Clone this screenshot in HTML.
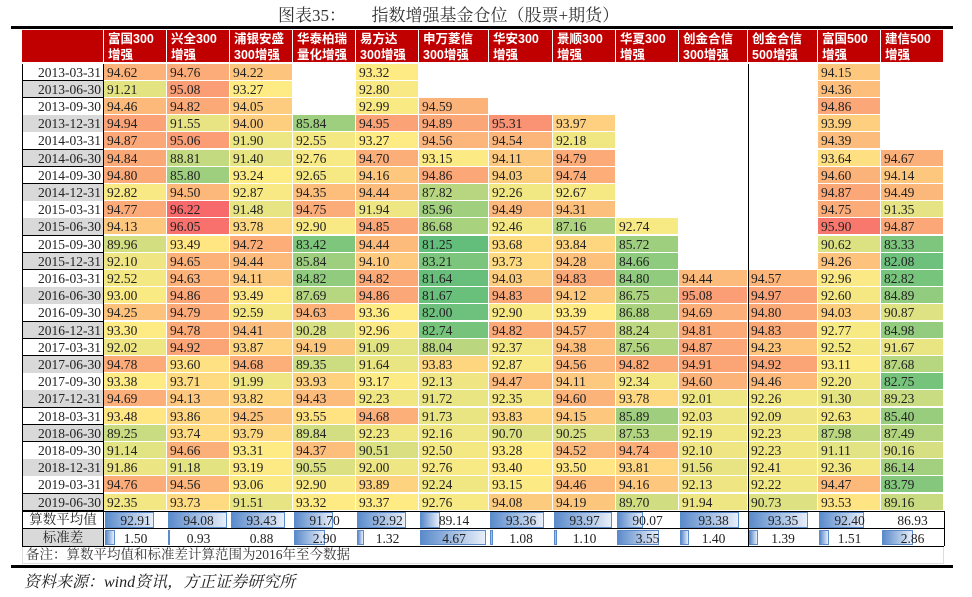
<!DOCTYPE html>
<html><head><meta charset="utf-8">
<style>
html,body{margin:0;padding:0;background:#fff;}
#root{position:relative;width:972px;height:597px;overflow:hidden;font-family:"Liberation Serif","Noto Serif CJK SC",serif;}
.c{position:absolute;box-sizing:border-box;font-size:13.5px;line-height:17px;color:#222;white-space:nowrap;overflow:hidden;}
.h{position:absolute;box-sizing:border-box;background:#C00000;color:#fff;font-family:"Liberation Sans","Noto Sans CJK SC",sans-serif;font-weight:bold;font-size:12.5px;line-height:16px;padding:1px 0 0 4px;border-right:1px solid #fff;border-bottom:2px solid #fff;white-space:nowrap;}
</style></head>
<body>
<div id="root">
  <div style="position:absolute;left:278px;top:1px;font-size:17px;color:#333;font-family:'Liberation Serif','Noto Serif CJK SC',serif;white-space:pre;">图表35：      指数增强基金仓位（股票+期货）</div>
  <div style="position:absolute;left:11px;top:26px;width:942px;height:3px;background:#000;"></div>
  <div style="position:absolute;left:11px;top:565px;width:942px;height:3px;background:#000;"></div>
  <div style="position:absolute;left:22px;top:546px;width:922px;height:18px;box-sizing:border-box;border:1px solid #ddd;border-top:none;padding-left:3px;font-size:13.5px;line-height:17px;color:#333;font-family:'Liberation Serif','Noto Serif CJK SC',serif;">备注：算数平均值和标准差计算范围为2016年至今数据</div>
  <div style="position:absolute;left:24px;top:569px;font-size:16px;font-style:italic;color:#222;font-family:'Liberation Serif','Noto Serif CJK SC',serif;">资料来源：wind资讯，方正证券研究所</div>
</div>
<script>
const dates=["2013-03-31","2013-06-30","2013-09-30","2013-12-31","2014-03-31","2014-06-30","2014-09-30","2014-12-31","2015-03-31","2015-06-30","2015-09-30","2015-12-31","2016-03-31","2016-06-30","2016-09-30","2016-12-31","2017-03-31","2017-06-30","2017-09-30","2017-12-31","2018-03-31","2018-06-30","2018-09-30","2018-12-31","2019-03-31","2019-06-30"];
const headLine1=["富国300","兴全300","浦银安盛","华泰柏瑞","易方达","申万菱信","华安300","景顺300","华夏300","创金合信","创金合信","富国500","建信500"];
const headLine2=["增强","增强","300增强","量化增强","300增强","300增强","增强","增强","增强","300增强","500增强","增强","增强"];
const N=null;
const colFuguo300=[94.62,91.21,94.46,94.94,94.87,94.84,94.80,92.82,94.77,94.13,89.96,92.10,92.52,93.00,94.25,93.30,92.02,94.78,93.38,94.69,93.48,89.25,91.14,91.86,94.76,92.35];
const colXingquan=[94.76,95.08,94.82,91.55,95.06,88.81,85.80,94.50,96.22,96.05,93.49,94.65,94.63,94.86,94.79,94.78,94.92,93.60,93.71,94.13,93.86,93.74,94.66,91.18,94.56,93.73];
const colPuyin=[94.22,93.27,94.05,94.00,91.90,91.40,93.24,92.87,91.48,93.78,94.72,94.44,94.11,93.49,92.59,94.41,93.87,94.68,91.99,93.82,94.25,93.79,93.31,93.19,93.06,91.51];
const colHuatai=[N,N,N,85.84,92.55,92.76,92.65,94.35,94.75,92.90,83.42,85.84,84.82,87.69,94.63,90.28,94.19,89.35,93.93,94.43,93.55,89.84,94.37,90.55,92.90,93.32];
const colEfund=[93.32,92.80,92.99,94.95,93.27,94.70,94.16,94.44,91.94,94.85,94.44,94.10,94.82,94.86,93.36,92.96,91.09,91.64,93.17,92.23,94.68,92.23,90.51,92.00,93.89,93.37];
const colShenwan=[N,N,94.59,94.89,94.56,93.15,94.86,87.82,85.96,86.68,81.25,83.21,81.64,81.67,82.00,82.74,88.04,93.83,92.13,91.72,91.73,92.16,92.50,92.76,92.24,92.76];
const colHuaan=[N,N,N,95.31,94.54,94.11,94.03,92.26,94.49,92.46,93.68,93.73,94.03,94.83,92.90,94.82,92.37,92.87,94.47,92.35,93.83,90.70,93.28,93.40,93.15,94.08];
const colJingshun=[N,N,N,93.97,92.18,94.79,94.74,92.67,94.31,87.16,93.84,94.28,94.83,94.12,93.39,94.57,94.38,94.56,94.11,94.60,94.15,90.25,94.52,93.50,94.46,94.19];
const colHuaxia=[N,N,N,N,N,N,N,N,N,92.74,85.72,84.66,84.80,86.75,86.88,88.24,87.56,94.82,92.34,93.78,85.89,87.53,94.74,93.81,94.16,89.70];
const colChuangjin300=[N,N,N,N,N,N,N,N,N,N,N,N,94.44,95.08,94.69,94.81,94.87,94.91,94.60,92.01,92.03,92.19,92.10,91.56,92.13,91.94];
const colChuangjin500=[N,N,N,N,N,N,N,N,N,N,N,N,94.57,94.97,94.80,94.83,94.23,94.92,94.46,92.26,92.09,92.23,92.23,92.41,92.22,90.73];
const colFuguo500=[94.15,94.36,94.86,93.99,94.39,93.64,94.60,94.87,94.75,95.90,90.62,94.26,92.96,92.60,94.03,92.77,92.52,93.11,92.20,91.30,92.63,87.98,91.11,92.36,94.47,93.53];
const colJianxin=[N,N,N,N,N,94.67,94.14,94.49,91.35,94.87,83.33,82.08,82.82,84.89,90.87,84.98,91.67,87.68,82.75,89.23,85.40,87.49,90.16,86.14,83.79,89.16];
const avgValues=[92.91,94.08,93.43,91.70,92.92,89.14,93.36,93.97,90.07,93.38,93.35,92.40,86.93];
const stdValues=[1.50,0.93,0.88,2.90,1.32,4.67,1.08,1.10,3.55,1.40,1.39,1.51,2.86];
const columns=[colFuguo300,colXingquan,colPuyin,colHuatai,colEfund,colShenwan,colHuaan,colJingshun,colHuaxia,colChuangjin300,colChuangjin500,colFuguo500,colJianxin];

const root=document.getElementById('root');
const colX=[104,167,230,293,356,419,489,553,616,679,748,818,881,944];
const headTop=30, rowTop=63.5, rowH=17.2;
function rowY(i){return rowTop+i*rowH;}
function mk(cls,x,y,w,h){const d=document.createElement('div');d.className=cls;d.style.left=x+'px';d.style.top=y+'px';d.style.width=w+'px';d.style.height=h+'px';root.appendChild(d);return d;}
// color scale
const all=[];columns.forEach(c=>c.forEach(v=>{if(v!==null)all.push(v);}));
all.sort((a,b)=>a-b);
const vMin=all[0],vMax=all[all.length-1],vMid=all[Math.floor(all.length/2)];
const G=[99,190,123],Y=[255,235,132],R=[248,105,107];
function lerp(a,b,t){return a.map((x,i)=>Math.round(x+(b[i]-x)*t));}
function color(v){let c;if(v<=vMid)c=lerp(G,Y,(v-vMin)/(vMid-vMin));else c=lerp(Y,R,(v-vMid)/(vMax-vMid));return 'rgb('+c.join(',')+')';}

// header
const h0=mk('h',22,headTop,82,34);


headLine1.forEach((t,j)=>{
  const d=mk('h',colX[j],headTop,colX[j+1]-colX[j],34);
  d.innerHTML=t+'<br>'+headLine2[j];
  
  
});
// rows
dates.forEach((dt,i)=>{
  const y=rowY(i);
  const d=mk('c',22,y,82,rowH+0.5);
  d.textContent=dt;
  d.style.textAlign='right';d.style.paddingRight='2px';
  d.style.background=(i%2)?'#D9D9D9':'#fff';
  d.style.borderLeft='1px solid #000';d.style.borderRight='1px solid #000';d.style.borderBottom='1px solid #000';
  
  
  columns.forEach((col,j)=>{
    const v=col[i];
    if(v===null)return;
    const c=mk('c',colX[j],y,colX[j+1]-colX[j],rowH);
    c.style.background=color(v);
    c.style.borderRight='1px solid #fff';c.style.borderBottom='1px solid #fff';
    c.style.paddingLeft='3px';
    c.textContent=v.toFixed(2);
    
    
  });
});
// summary rows
function summaryRow(vals,y,label,bg,name){
  const l=mk('c',22,y,82,17.5);
  l.textContent=label;l.style.textAlign='center';l.style.background=bg;
  l.style.fontFamily="'Liberation Serif','Noto Serif CJK SC',serif";
  l.style.borderLeft='1px solid #000';l.style.borderRight='1px solid #000';
  
  
  const mn=Math.min(...vals),mx=Math.max(...vals);
  vals.forEach((v,j)=>{
    const w=colX[j+1]-colX[j];
    const bw=(v-mn)/(mx-mn)*(w-4);
    if(bw>0.5){
      const b=mk('c',colX[j]+1,y+1,bw,15.5);
      b.style.background='linear-gradient(to right,#5B8BCB,#E8EEF8)';
      b.style.border='1px solid #5B8BCB';
      
      
    }
    const t=mk('c',colX[j],y,w,17.5);
    t.textContent=v.toFixed(2);t.style.textAlign='center';t.style.paddingTop='1px';
    
    
  });
  const line=mk('c',22,y-0.5,922,1.2);line.style.background='#000';
  
  
}
summaryRow(avgValues,511,'算数平均值','#fff','average-row');
summaryRow(stdValues,528.5,'标准差','#D9D9D9','std-row');
const bl=mk('c',22,545.5,922,1.2);bl.style.background='#000';


const rl=mk('c',943.5,511,1.2,35);rl.style.background='#000';


const vl=mk('c',747.5,64,1.3,482);vl.style.background='#000';


</script>
</body></html>
